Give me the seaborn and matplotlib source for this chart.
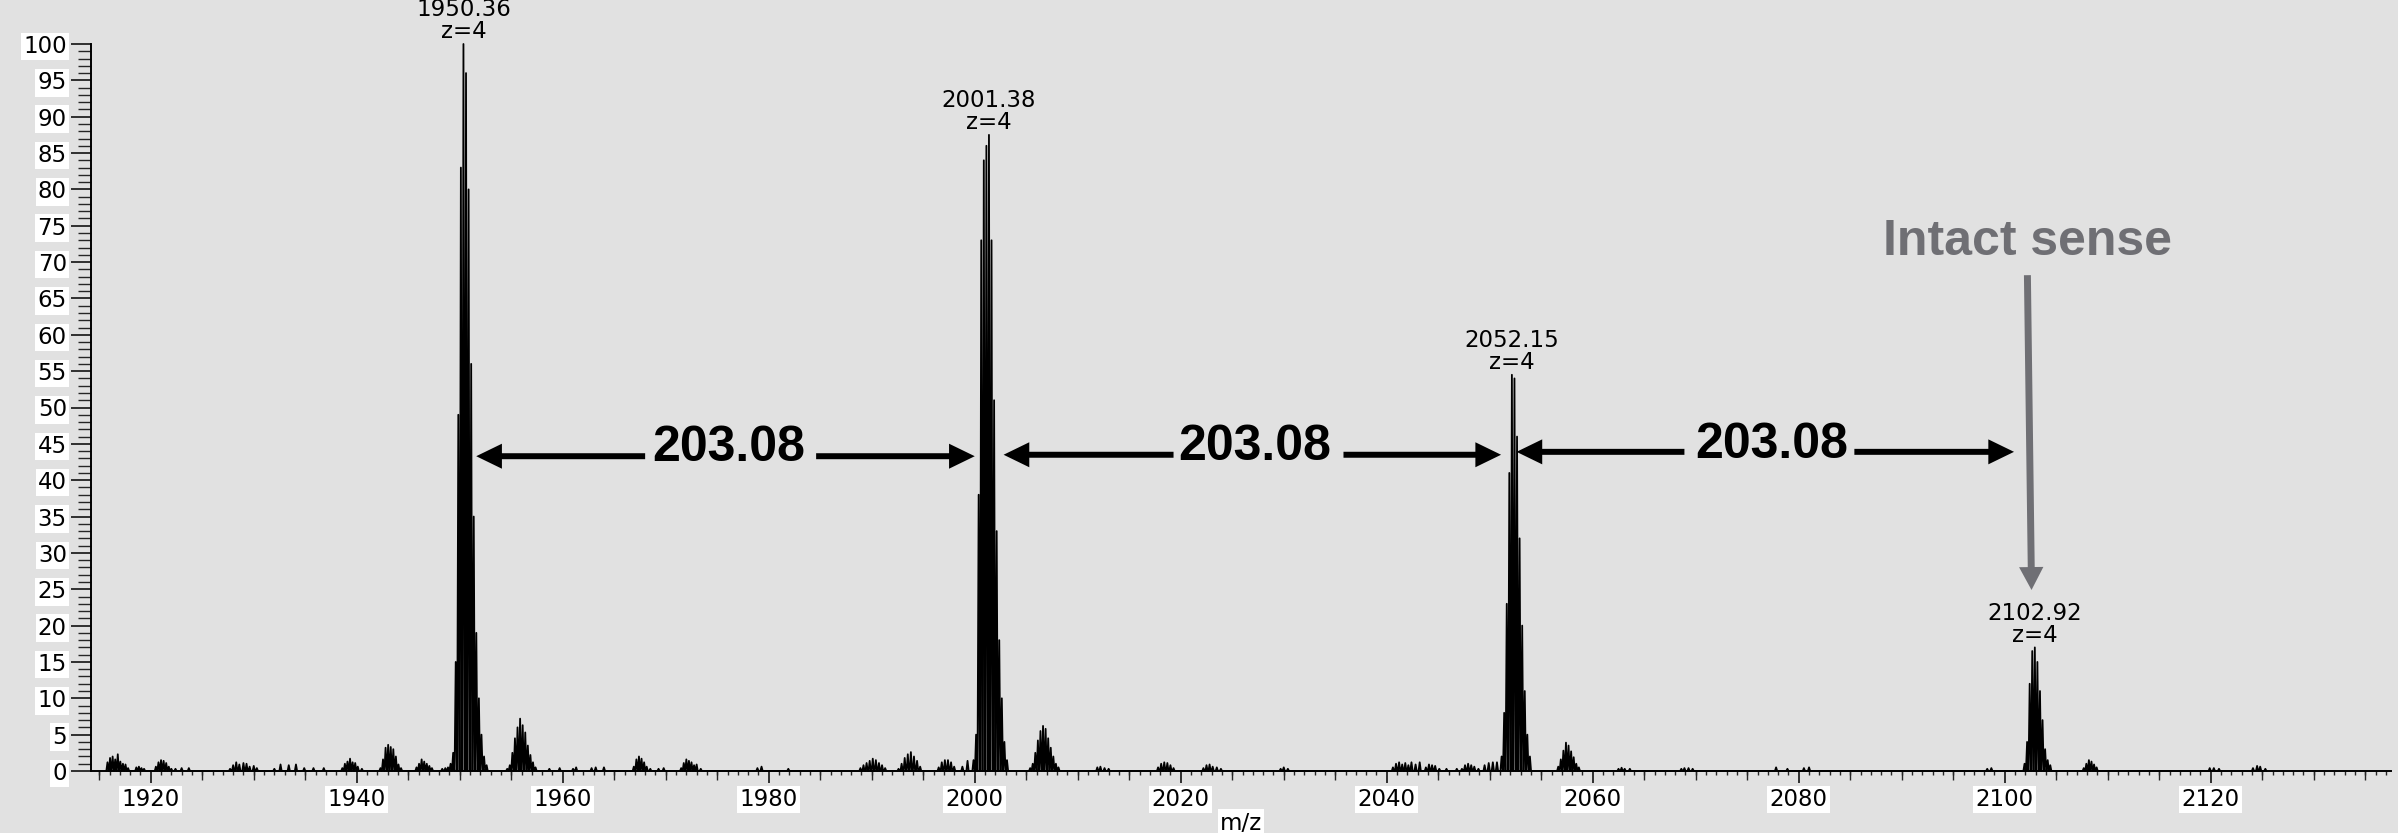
import numpy as np
import pandas as pd
import matplotlib
matplotlib.use("Agg")
import matplotlib.pyplot as plt
from matplotlib.ticker import MultipleLocator, FixedLocator, NullFormatter
import seaborn as sns

# ---------------- data ----------------
# main isotope clusters (z = 4, 0.25 m/z spacing)
main_1950_mz = [1948.86, 1949.11, 1949.36, 1949.61, 1949.86, 1950.11, 1950.36, 1950.61,
                1950.86, 1951.11, 1951.36, 1951.61, 1951.86, 1952.11, 1952.36, 1952.61]
main_1950_int = [0.5, 1.0, 2.5, 15, 49, 83, 100, 96, 80, 56, 35, 19, 10, 5, 2, 0.8]

main_2001_mz = [1999.88, 2000.13, 2000.38, 2000.63, 2000.88, 2001.13, 2001.38, 2001.63,
                2001.88, 2002.13, 2002.38, 2002.63, 2002.88, 2003.13]
main_2001_int = [1.5, 5, 38, 73, 84, 86, 87.5, 73, 51, 33, 18, 10, 4, 1.5]

main_2052_mz = [2051.15, 2051.40, 2051.65, 2051.90, 2052.15, 2052.40, 2052.65, 2052.90,
                2053.15, 2053.40, 2053.65, 2053.90]
main_2052_int = [2, 8, 23, 41, 54.5, 54, 46, 32, 20, 11, 5, 2]

main_2103_mz = [2101.92, 2102.17, 2102.42, 2102.67, 2102.92, 2103.17, 2103.42, 2103.67,
                2103.92, 2104.17, 2104.42]
main_2103_int = [1, 4, 12, 16.5, 17, 15, 11, 7, 3, 1.5, 0.8]

# sodium-adduct clusters
adduct_mz = [1954.61, 1954.86, 1955.11, 1955.36, 1955.61, 1955.86, 1956.11, 1956.36, 1956.61,
             1956.86, 1957.11, 1957.36,
             2005.38, 2005.63, 2005.88, 2006.13, 2006.38, 2006.63, 2006.88, 2007.13, 2007.38,
             2007.63, 2007.88, 2008.13,
             2056.65, 2056.90, 2057.15, 2057.40, 2057.65, 2057.90, 2058.15, 2058.40, 2058.65,
             2107.67, 2107.92, 2108.17, 2108.42, 2108.67, 2108.92]
adduct_int = [0.3, 0.8, 2.5, 4.5, 6.0, 7.2, 6.3, 5.3, 3.5, 2.2, 1.2, 0.5,
              0.4, 1.0, 2.5, 4.2, 5.5, 6.2, 5.8, 4.5, 3.2, 2.0, 1.0, 0.5,
              0.6, 1.6, 2.8, 3.9, 3.5, 2.7, 1.9, 1.0, 0.5,
              0.4, 1.0, 1.5, 1.3, 0.9, 0.5]

# small background signals
minor_mz = [1915.80, 1916.05, 1916.30, 1916.55, 1916.80, 1917.05, 1917.30, 1917.55, 1917.80,
            1918.60, 1918.85, 1919.10, 1919.35,
            1920.50, 1920.75, 1921.00, 1921.25, 1921.50, 1921.75, 1922.00, 1922.40, 1923.00, 1923.70,
            1927.70, 1928.00, 1928.30, 1928.60, 1929.00, 1929.30, 1929.60, 1930.00, 1930.30,
            1932.00, 1932.60, 1933.40, 1934.10, 1934.90, 1935.80, 1936.80,
            1938.60, 1938.85, 1939.10, 1939.35, 1939.60, 1939.85, 1940.10, 1940.50,
            1942.30, 1942.55, 1942.80, 1943.05, 1943.30, 1943.55, 1943.80, 1944.05, 1944.30,
            1945.80, 1946.05, 1946.30, 1946.55, 1946.80, 1947.05, 1947.30, 1948.30, 1948.60,
            1958.70, 1959.70, 1961.00, 1961.30, 1962.80, 1963.20, 1964.00,
            1966.90, 1967.15, 1967.40, 1967.65, 1967.90, 1968.15, 1968.50, 1969.30, 1969.80,
            1971.50, 1971.75, 1972.00, 1972.25, 1972.50, 1972.75, 1973.00, 1973.40,
            1978.90, 1979.30, 1981.90,
            1988.90, 1989.20, 1989.50, 1989.80, 1990.10, 1990.40, 1990.70, 1991.00, 1991.30,
            1992.60, 1992.90, 1993.20, 1993.50, 1993.80, 1994.10, 1994.40, 1994.70,
            1996.50, 1996.80, 1997.10, 1997.40, 1997.70, 1998.00, 1998.80, 1999.30,
            2011.90, 2012.20, 2012.60, 2013.00,
            2017.80, 2018.10, 2018.40, 2018.70, 2019.00, 2019.30,
            2022.20, 2022.50, 2022.80, 2023.10, 2023.50, 2023.90,
            2029.70, 2030.00, 2030.40,
            2040.60, 2040.90, 2041.20, 2041.50, 2041.80, 2042.10, 2042.40, 2042.80, 2043.20,
            2043.80, 2044.10, 2044.40, 2044.70, 2045.10, 2045.80, 2046.80,
            2047.30, 2047.60, 2047.90, 2048.20, 2048.50, 2048.90,
            2049.50, 2049.90, 2050.30, 2050.70,
            2062.50, 2062.80, 2063.10, 2063.60, 2068.60, 2068.90, 2069.30, 2069.70,
            2077.80, 2078.90, 2080.50, 2081.00, 2098.30, 2098.70,
            2119.90, 2120.30, 2120.80, 2124.10, 2124.50, 2124.80, 2125.30]
minor_int = [1.2, 1.8, 2.0, 1.6, 2.3, 1.3, 1.0, 0.9, 0.4,
             0.5, 0.6, 0.4, 0.3,
             0.6, 1.2, 1.5, 1.4, 1.1, 0.6, 0.3, 0.3, 0.4, 0.4,
             0.3, 0.8, 1.2, 0.9, 1.1, 1.0, 0.6, 0.7, 0.4,
             0.3, 0.9, 0.8, 0.9, 0.4, 0.4, 0.4,
             0.4, 1.0, 1.3, 1.7, 1.2, 1.1, 0.6, 0.3,
             0.4, 1.6, 3.2, 3.6, 3.3, 3.0, 2.0, 0.9, 0.4,
             0.5, 1.0, 1.6, 1.3, 1.0, 0.7, 0.4, 0.3, 0.4,
             0.3, 0.4, 0.3, 0.5, 0.4, 0.5, 0.5,
             0.6, 1.6, 2.0, 1.7, 1.2, 0.6, 0.3, 0.3, 0.4,
             0.4, 1.1, 1.6, 1.4, 1.2, 0.8, 0.9, 0.3,
             0.4, 0.6, 0.3,
             0.4, 0.8, 1.1, 1.4, 1.7, 1.5, 1.1, 0.8, 0.4,
             0.3, 1.0, 1.8, 2.3, 2.6, 2.0, 1.4, 0.6,
             0.5, 1.2, 1.5, 1.5, 1.2, 0.6, 0.6, 1.4,
             0.5, 0.6, 0.4, 0.3,
             0.5, 1.0, 1.2, 1.1, 0.8, 0.4,
             0.4, 0.8, 0.9, 0.6, 0.5, 0.3,
             0.3, 0.5, 0.3,
             0.5, 1.0, 1.2, 0.9, 1.1, 0.8, 1.2, 0.9, 1.2,
             0.5, 0.9, 0.8, 0.7, 0.3, 0.3, 0.3,
             0.3, 0.8, 1.0, 0.8, 0.6, 0.3,
             0.8, 1.1, 1.2, 1.2,
             0.3, 0.45, 0.3, 0.3, 0.3, 0.4, 0.4, 0.3,
             0.5, 0.3, 0.4, 0.5, 0.3, 0.4,
             0.4, 0.4, 0.3, 0.4, 0.7, 0.6, 0.3]

# peak annotations
peak_label_mz = [1950.36, 2001.38, 2052.15, 2102.92]
peak_label_int = [100, 87.5, 54.5, 17]
peak_labels = ["1950.36", "2001.38", "2052.15", "2102.92"]
charge_label = "z=4"

x_tick_values = [1920, 1940, 1960, 1980, 2000, 2020, 2040, 2060, 2080, 2100, 2120]
y_tick_values = list(range(0, 101, 5))

diff_text = "203.08"
diff_text_mz = [1976.1, 2027.2, 2077.4]
diff_arrow_left = [(1968.0, 1951.6), (2019.3, 2002.8), (2068.9, 2052.6)]   # (tail, tip)
diff_arrow_right = [(1984.6, 2000.0), (2035.8, 2051.1), (2085.4, 2100.9)]  # (tail, tip)
diff_arrow_y = [43.3, 43.5, 43.9]
diff_text_y = [42.6, 42.8, 43.1]

intact_text = "Intact sense"
intact_text_xy = (2102.2, 71.0)
intact_arrow = ((2102.2, 68.2), (2102.6, 24.9))

# ---------------- styling ----------------
BG = "#e1e1e1"
GRAY = "#6f6f74"
PEAK_HALF_WIDTH = 0.11
SMALL_FS = 16.5

sns.set_theme(style="ticks")
plt.rcParams["font.family"] = ["DejaVu Sans"]
plt.rcParams["figure.facecolor"] = BG
plt.rcParams["axes.facecolor"] = BG
plt.rcParams["savefig.facecolor"] = BG

# build the profile that seaborn draws as one line
mz_all = np.array(main_1950_mz + main_2001_mz + main_2052_mz + main_2103_mz + adduct_mz + minor_mz)
int_all = np.array(main_1950_int + main_2001_int + main_2052_int + main_2103_int + adduct_int + minor_int)
order = np.argsort(mz_all)
xs, ys = [], []
for m, h in zip(mz_all[order], int_all[order]):
    xs += [m - PEAK_HALF_WIDTH, m, m + PEAK_HALF_WIDTH]
    ys += [0.0, h, 0.0]
profile = pd.DataFrame({"mz": xs, "intensity": ys})

W, H = 2398, 833
fig = plt.figure(figsize=(W / 100, H / 100), dpi=100)
ax_l, ax_r, ax_b, ax_t = 91, 2391, 771, 44
ax = fig.add_axes([ax_l / W, 1 - ax_b / H, (ax_r - ax_l) / W, (ax_b - ax_t) / H])

sns.lineplot(data=profile, x="mz", y="intensity", sort=False, estimator=None,
             color="black", lw=1.3, ax=ax, clip_on=False)

ax.set_xlim(1914.2, 2137.5)
ax.set_ylim(0, 100)
for s in ["top", "right"]:
    ax.spines[s].set_visible(False)
for s in ["left", "bottom"]:
    ax.spines[s].set_linewidth(1.4)
    ax.spines[s].set_color("black")

ax.set_xticks(x_tick_values)
ax.set_xticklabels([str(v) for v in x_tick_values])
ax.set_yticks(y_tick_values)
ax.set_yticklabels([str(v) for v in y_tick_values])
ax.xaxis.set_minor_locator(MultipleLocator(1))
ax.yaxis.set_minor_locator(MultipleLocator(1))
ax.tick_params(axis="y", which="major", length=14.4, width=1.1, pad=3,
               labelsize=SMALL_FS, colors="black", direction="out")
ax.tick_params(axis="y", which="minor", length=9.4, width=1.0, direction="out")
ax.tick_params(axis="x", which="major", length=8.6, width=1.1, pad=3.5,
               labelsize=SMALL_FS, colors="black", direction="out")
ax.tick_params(axis="x", which="minor", length=2.8, width=1.0, direction="out")

# medium ticks every 5 m/z
sec = ax.secondary_xaxis("bottom")
sec.xaxis.set_major_locator(FixedLocator([v for v in range(1915, 2140, 5) if v % 20 != 0]))
sec.xaxis.set_major_formatter(NullFormatter())
sec.tick_params(axis="x", which="major", length=6.5, width=1.0, direction="out")
sec.xaxis.set_minor_locator(FixedLocator([]))
sec.spines["bottom"].set_visible(False)

box = dict(boxstyle="square,pad=0.1", facecolor="white", edgecolor="none")
for lab in ax.get_xticklabels() + ax.get_yticklabels():
    lab.set_bbox(box)

ax.set_xlabel("m/z", fontsize=SMALL_FS, color="black", bbox=box)
ax.xaxis.set_label_coords(0.5, -0.056)
ax.set_ylabel("")

# peak labels
for m, h, lab in zip(peak_label_mz, peak_label_int, peak_labels):
    ax.annotate(f"{lab}\n{charge_label}", xy=(m, h), xytext=(0, 0.5), textcoords="offset points",
                ha="center", va="bottom", fontsize=SMALL_FS, linespacing=0.95,
                annotation_clip=False, color="black")

# mass-difference arrows
arrow_style = "simple,head_length=1.85,head_width=1.8,tail_width=0.43"
for i in range(3):
    y = diff_arrow_y[i]
    for tail, tip in (diff_arrow_left[i], diff_arrow_right[i]):
        ax.annotate("", xy=(tip, y), xytext=(tail, y),
                    arrowprops=dict(arrowstyle=arrow_style, color="black", lw=0,
                                    shrinkA=0, shrinkB=0, mutation_scale=10))
    ax.text(diff_text_mz[i], diff_text_y[i], diff_text, ha="center", va="baseline",
            fontsize=36, fontweight="bold", family="Liberation Sans", color="black")

# intact sense arrow
ax.text(intact_text_xy[0], intact_text_xy[1], intact_text, ha="center", va="baseline",
        fontsize=36, fontweight="bold", family="Liberation Sans", color=GRAY)
ax.annotate("", xy=intact_arrow[1], xytext=intact_arrow[0],
            arrowprops=dict(arrowstyle="simple,head_length=1.65,head_width=1.75,tail_width=0.5",
                            color=GRAY, lw=0, shrinkA=0, shrinkB=0, mutation_scale=10))

fig.savefig("out.png", dpi=100, facecolor=BG)
